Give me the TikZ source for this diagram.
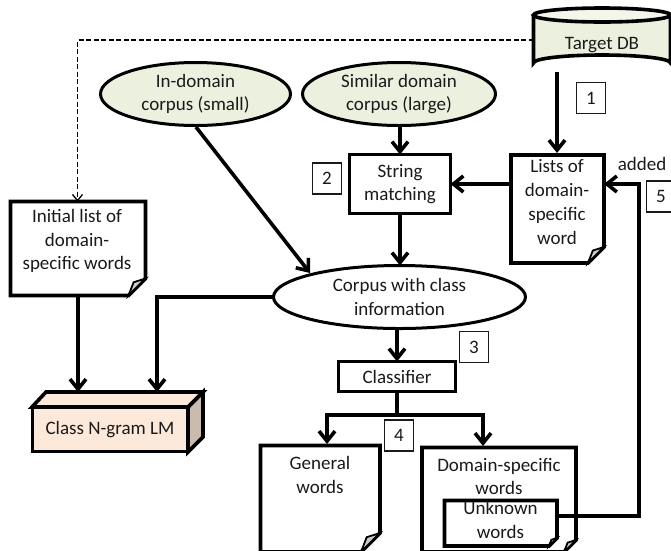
\documentclass[tikz,border=0pt]{standalone}
\usepackage{fontspec}
\setmainfont{Carlito}
\usetikzlibrary{arrows.meta,shapes.geometric}
\definecolor{sage}{HTML}{EBF1DE}
\definecolor{peach}{HTML}{FDE9D9}
\definecolor{peachd}{HTML}{CBBAAE}
\definecolor{foldc}{HTML}{CBCBCB}
\definecolor{ink}{HTML}{1A1A1A}
\tikzset{
 x=1pt,y=-1pt,
 every node/.style={font=\fontsize{19}{23.7}\selectfont,text=ink,inner sep=0pt,outer sep=0pt,align=center},
 thick line/.style={line width=3.6pt,draw=black},
 flow/.style={line width=3.6pt,draw=black,line join=miter,-{Straight Barb[length=10pt,width=16pt,line width=3.6pt]}},
 thinflow/.style={line width=1.3pt,dash pattern=on 5pt off 2.5pt,draw=black,-{Straight Barb[length=6pt,width=10pt,line width=1.3pt]}},
 numbox/.style={draw=ink,line width=1.3pt,fill=white,minimum width=29pt,minimum height=31pt},
 oval/.style={draw=black,line width=3pt,shape=ellipse},
 boxn/.style={draw=black,line width=3.6pt,fill=white,shape=rectangle},
 anchorbox/.style={shape=rectangle},
}
% name, x1,y1,x2,y2, fold
\newcommand{\docshape}[6]{%
 \draw[thick line,fill=white,line join=miter] (#2,#3) -- (#4,#3) -- (#4,#5-#6) -- (#4-#6,#5) -- (#2,#5) -- cycle;
 \draw[line width=1.8pt,fill=foldc] (#4,#5-#6) -- (#4-0.7*#6,#5-0.78*#6) -- (#4-#6,#5) -- cycle;
 \node[anchorbox,minimum width={(#4-#2)*1pt},minimum height={(#5-#3)*1pt}] (#1) at ({(#2+#4)/2},{(#3+#5)/2}) {};
}
\begin{document}
\begin{tikzpicture}
\useasboundingbox (0,0) rectangle (671,550);
\clip (0,0) rectangle (671,550);
% Target DB
\draw[thick line,fill=sage] (533.5,15) -- (533.5,63) arc[start angle=180,end angle=360,x radius=68.5,y radius=8] -- (670.5,15);
\draw[thick line,fill=sage!60!white] (602,15) ellipse [x radius=68.5,y radius=7];
\node[anchorbox,minimum width=137pt,minimum height=64pt] (dbbody) at (602,40) {};
\node (db) at (602,45) {Target DB};
% ovals
\node[oval,fill=sage,minimum width=190pt,minimum height=63pt] (ind) at (195.5,94) {In-domain\\corpus (small)};
\node[oval,fill=sage,minimum width=193pt,minimum height=63pt] (sim) at (399,94) {Similar domain\\corpus (large)};
\node[oval,fill=white,minimum width=252pt,minimum height=63pt] (cor) at (399.5,297) {Corpus with class\\information};
% docs
\docshape{listsd}{511}{155}{604}{263}{16}
\node (lists) at (557,202) {Lists of\\domain-\\specific\\word};
\docshape{initd}{10.5}{201.5}{145.5}{295.5}{17}
\node (init) at (77,241) {Initial list of\\domain-\\specific words};
\docshape{gend}{260.5}{445.5}{380}{552}{19}
\node (gen) at (320,475) {General\\words};
\docshape{domd}{422}{447.5}{576}{552}{12}
\node (dom) at (499,476.5) {Domain-specific\\words};
\docshape{unkd}{444.5}{500.5}{557}{546}{8}
\node (unk) at (500.5,520) {Unknown\\words};
% boxes
\node[boxn,minimum width=101pt,minimum height=59pt] (str) at (400,184) {String\\matching};
\node[boxn,minimum width=117pt,minimum height=30pt] (cls) at (397,376.5) {Classifier};
% 3d box
\draw[thick line,fill=peachd,line join=miter] (188,407) -- (203,392) -- (203,437) -- (188,452) -- cycle;
\draw[thick line,fill=peach,line join=miter] (32,407) -- (46,392) -- (203,392) -- (188,407) -- cycle;
\node[boxn,fill=peach,minimum width=155pt,minimum height=44pt] (lm) at (110,429.5) {Class N-gram LM};
\coordinate (lmtop) at (124,392);
% number boxes
\node[numbox] (n1) at (591,98) {1};
\node[numbox] (n2) at (327,178.5) {2};
\node[numbox] (n3) at (474,347) {3};
\node[numbox] (n4) at (399,435.5) {4};
\node[numbox] (n5) at (661,196.5) {5};
\node (add) at (642,164) {added};
% connectors
\coordinate (split) at (397,415);
\coordinate (feed) at (639,516);
\coordinate (dashc) at (77.5,40);
\draw[flow] (557,72) -- (557,153);
\draw[flow] (listsd.west |- str.east) -- (str.east);
\draw[flow] (sim.south -| str.north) -- (str.north);
\draw[flow] (str.south) -- (str.south |- cor.north);
\draw[flow] (196,127) -- (310,273);
\draw[flow] (cor.south -| cls.north) -- (cls.north);
\draw[line width=3.6pt] (cls.south) -- (split);
\draw[flow] (split) -| (327,444);
\draw[flow] (split) -| (483,446);
\draw[flow] (unkd.east |- feed) -- (feed) -- (feed |- str.east) -- (listsd.east |- str.east);
\draw[flow] (cor.west) -| (157,392);
\draw[flow] (78,296) -- (78,392);
\draw[thinflow] (dbbody.west |- dashc) -- (dashc) -- (initd.north -| dashc);
\end{tikzpicture}
\end{document}
